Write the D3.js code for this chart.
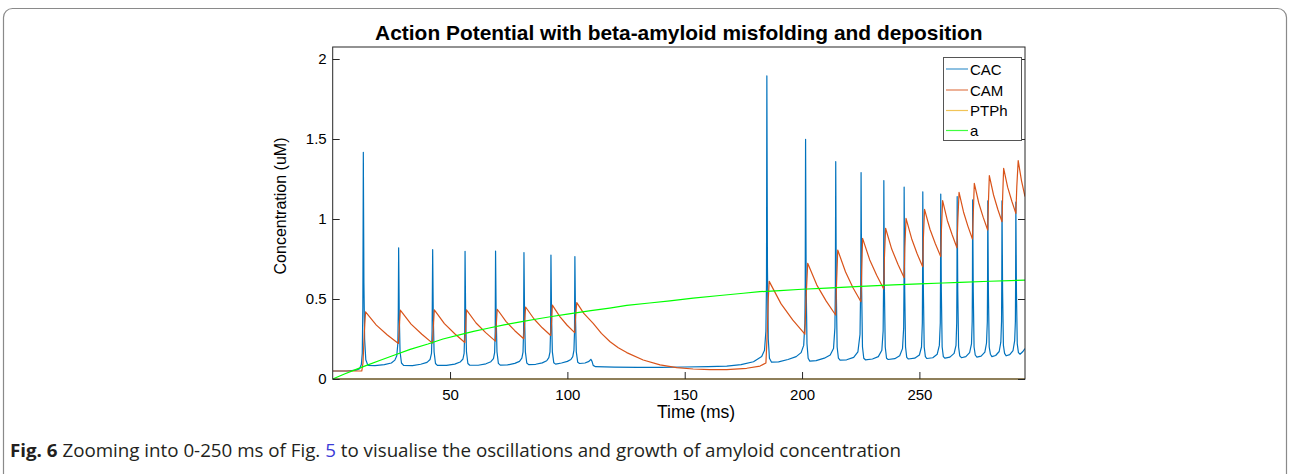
<!DOCTYPE html>
<html><head><meta charset="utf-8">
<script src="https://cdn.jsdelivr.net/npm/d3@7"></script>
<style>body{margin:0;background:#fff}svg{display:block}</style>
</head><body><svg id="c" width="1289" height="474"></svg>
<script>
// ---------------- data ----------------
const seriesNames = ["CAC", "CAM", "PTPh", "a"];
const xTicks = [50, 100, 150, 200, 250];
const yTicks = [0, 0.5, 1, 1.5, 2];
const yTickLabels = ["0", "0.5", "1", "1.5", "2"];
const xTickLabels = ["50", "100", "150", "200", "250"];

// CAC: [time (ms), concentration (uM)]
const CAC = [
[0,0.05],[6,0.05],[10,0.055],[11.5,0.065],[12.2,0.09],[12.6,0.16],[12.85,0.45],[13.05,1.417],[13.3,0.6],[13.6,0.25],[14.1,0.12],[15,0.085],
[18,0.083],[22,0.09],[25,0.1],[26.5,0.118],[27.3,0.145],[27.75,0.22],[27.95,0.42],[28.1,0.82],[28.35,0.42],[28.7,0.17],[29.3,0.1],[30.2,0.085],
[34,0.084],[37.5,0.092],[40.2,0.104],[41.5,0.122],[42.1,0.16],[42.35,0.3],[42.45,0.5],[42.6,0.808],[42.85,0.4],[43.2,0.17],[43.8,0.097],[44.6,0.085],
[48.5,0.085],[52,0.093],[54.3,0.106],[55.5,0.125],[56.0,0.16],[56.25,0.3],[56.3,0.5],[56.4,0.798],[56.65,0.4],[57.0,0.17],[57.6,0.097],[58.4,0.086],
[62,0.086],[65.3,0.095],[67.4,0.108],[68.5,0.127],[69.0,0.165],[69.25,0.3],[69.3,0.5],[69.4,0.80],[69.65,0.4],[70.0,0.17],[70.6,0.098],[71.4,0.087],
[74.5,0.088],[77.6,0.098],[79.6,0.11],[80.6,0.13],[81.1,0.168],[81.35,0.3],[81.4,0.5],[81.5,0.79],[81.75,0.4],[82.1,0.17],[82.7,0.1],[83.5,0.09],
[86.5,0.092],[89.3,0.101],[91.2,0.114],[92.1,0.134],[92.6,0.17],[92.85,0.3],[92.9,0.5],[93.0,0.775],[93.25,0.4],[93.6,0.17],[94.2,0.102],[95.0,0.093],
[97.5,0.1],[100,0.11],[101.5,0.122],[102.3,0.14],[102.8,0.18],[103.05,0.3],[103.1,0.5],[103.2,0.765],[103.45,0.4],[103.8,0.17],[104.4,0.105],[105.2,0.097],
[107.5,0.1],[109.2,0.11],[110.0,0.123],[110.5,0.11],[111.0,0.085],[112,0.077],[120,0.074],[130,0.073],[140,0.073],[150,0.075],[160,0.077],[167.9,0.081],
[174,0.09],[179.3,0.108],[182.8,0.14],[184.0,0.18],[184.6,0.3],[184.85,0.6],[185.0,1.894],[185.25,0.7],[185.6,0.25],[186.1,0.13],[187,0.105],
[190,0.107],[194,0.122],[197.5,0.14],[199.6,0.165],[200.7,0.21],[201.2,0.35],[201.35,0.6],[201.5,1.498],[201.75,0.6],[202.1,0.22],[202.6,0.13],[203.3,0.112],
[206,0.115],[209.5,0.13],[212,0.15],[213.4,0.19],[214.0,0.32],[214.2,0.6],[214.35,1.358],[214.6,0.55],[214.95,0.2],[215.5,0.13],[216.2,0.118],
[219,0.12],[222,0.135],[223.8,0.17],[224.7,0.28],[225.0,0.6],[225.15,1.29],[225.4,0.55],[225.75,0.2],[226.3,0.13],[227,0.12],
[230,0.125],[232.5,0.14],[234.0,0.18],[234.55,0.3],[234.75,0.6],[234.85,1.24],[235.1,0.55],[235.45,0.2],[236,0.13],[236.7,0.122],
[239.5,0.127],[241.6,0.145],[242.8,0.19],[243.3,0.32],[243.45,0.6],[243.5,1.2],[243.75,0.55],[244.1,0.2],[244.6,0.135],[245.3,0.125],
[248,0.13],[250,0.15],[250.9,0.2],[251.25,0.35],[251.35,0.6],[251.45,1.17],[251.7,0.55],[252.05,0.2],[252.55,0.14],[253.2,0.128],
[255.7,0.133],[257.6,0.155],[258.5,0.21],[258.9,0.35],[259.0,0.6],[259.1,1.156],[259.35,0.55],[259.7,0.2],[260.2,0.14],[260.9,0.13],
[263,0.137],[264.8,0.16],[265.6,0.21],[265.9,0.35],[266.0,0.6],[266.1,1.14],[266.35,0.55],[266.7,0.2],[267.2,0.145],[267.9,0.133],
[269.8,0.14],[271.4,0.165],[272.2,0.22],[272.5,0.36],[272.6,0.6],[272.7,1.12],[272.95,0.55],[273.3,0.2],[273.8,0.15],[274.5,0.137],
[276.3,0.143],[277.9,0.168],[278.6,0.225],[278.95,0.36],[279.05,0.6],[279.15,1.113],[279.4,0.55],[279.75,0.2],[280.25,0.155],[280.9,0.14],
[282.5,0.147],[284.0,0.172],[284.7,0.23],[285.0,0.36],[285.1,0.6],[285.2,1.113],[285.45,0.55],[285.8,0.21],[286.3,0.16],[287,0.145],
[288.5,0.152],[289.9,0.178],[290.6,0.24],[290.9,0.36],[291.0,0.6],[291.1,1.106],[291.35,0.55],[291.7,0.22],[292.2,0.165],[292.9,0.155],
[294,0.17],[295,0.19]
];

// CAM: [time (ms), concentration (uM)]
const CAM = [
[0,0.05],[12.4,0.05],[12.9,0.1],[13.5,0.3],[14.0,0.42],
[18.6,0.337],[23.3,0.275],[28.0,0.222],[28.4,0.33],[28.8,0.43],
[33.4,0.343],[38.0,0.28],[42.5,0.224],[42.9,0.33],[43.3,0.432],
[47.6,0.346],[52.0,0.283],[56.3,0.228],[56.7,0.33],[57.0,0.432],
[61.1,0.35],[65.2,0.29],[69.3,0.237],[69.7,0.34],[70.1,0.436],
[73.9,0.359],[77.6,0.302],[81.4,0.252],[81.8,0.36],[82.2,0.45],
[85.8,0.375],[89.3,0.32],[92.9,0.272],[93.3,0.37],[93.6,0.462],
[96.8,0.39],[99.9,0.336],[103.1,0.29],[103.5,0.39],[104.0,0.477],
[107,0.41],[111.0,0.348],[114.5,0.285],[118.2,0.233],[121.7,0.195],[125.3,0.165],[132.3,0.119],[139.5,0.088],[146.6,0.071],
[153.6,0.0625],[160.7,0.058],[167.9,0.059],[176.4,0.067],[182.1,0.081],[184.6,0.1],[185.2,0.3],[185.6,0.5],[186.0,0.61],
[191.0,0.471],[196.0,0.369],[201.2,0.28],[201.7,0.5],[202.4,0.723],
[206.3,0.587],[210.3,0.487],[214.3,0.4],[214.7,0.6],[215.2,0.806],
[218.5,0.67],[221.7,0.57],[225.1,0.483],[225.4,0.68],[225.8,0.879],
[228.8,0.746],[231.8,0.648],[234.8,0.5625],[235.1,0.76],[235.6,0.942],
[238.2,0.812],[240.9,0.716],[243.5,0.633],[243.8,0.82],[244.3,1.004],
[246.7,0.877],[249.0,0.784],[251.4,0.702],[251.7,0.88],[252.2,1.06],
[254.5,0.936],[256.8,0.845],[259.1,0.765],[259.4,0.94],[259.9,1.115],
[261.9,0.991],[264.0,0.9],[266.0,0.82],[266.4,1.0],[266.9,1.167],
[268.8,1.044],[270.7,0.954],[272.6,0.875],[273.0,1.05],[273.4,1.223],
[275.3,1.10],[277.2,1.01],[279.1,0.931],[279.4,1.1],[279.8,1.271],
[281.6,1.15],[283.4,1.061],[285.2,0.983],[285.5,1.15],[285.9,1.317],
[287.6,1.199],[289.4,1.111],[291.1,1.035],[291.5,1.2],[292.1,1.365],
[293.5,1.24],[295,1.14]
];

// PTPh: [time (ms), concentration (uM)]
const PTPh = [[0,0],[100,0],[200,0],[295,0]];

// a (amyloid): [time (ms), concentration (uM)]
const amyloid = [
[0,0],[5,0.031],[10,0.06],[12.2,0.073],[15,0.088],[20,0.116],[26.4,0.15],[33,0.185],[40.6,0.219],[47,0.25],[54.8,0.279],
[60,0.298],[66.2,0.317],[73,0.338],[80,0.357],[87,0.375],[94,0.392],[100,0.406],[110,0.427],[118,0.443],[125.3,0.46],
[135,0.475],[143.7,0.488],[153.6,0.505],[165,0.522],[175,0.536],[182,0.546],[190.6,0.552],[200,0.561],[210.4,0.568],
[225,0.579],[238.9,0.588],[250,0.595],[260,0.6],[267.3,0.604],[280,0.611],[295,0.618]
];

const seriesData = [CAC, CAM, PTPh, amyloid];
const seriesColors = ["#0072BD", "#D95319", "#EDB120", "#00FF00"];

// ---------------- layout ----------------
const svg = d3.select("#c");
const L = 332.7, R = 1025, T = 47, B = 379;
const x = d3.scaleLinear().domain([0, 295]).range([L, R]);
const y = d3.scaleLinear().domain([0, 2.075]).range([B, T]);
const axisColor = "#262626";
const fontFam = "'Liberation Sans', Arial, Helvetica, sans-serif";

// outer frame
svg.append("rect").attr("x", 3.5).attr("y", 8.5).attr("width", 1283).attr("height", 520)
  .attr("rx", 9).attr("fill", "none").attr("stroke", "#8a8a8a").attr("stroke-width", 1.2);

// plot background
svg.append("rect").attr("x", L).attr("y", T).attr("width", R - L).attr("height", B - T).attr("fill", "#fff");

svg.append("clipPath").attr("id", "clip").append("rect")
  .attr("x", L).attr("y", T - 1).attr("width", R - L).attr("height", B - T + 2);

const line = d3.line().x(d => x(d[0])).y(d => y(d[1]));
const g = svg.append("g").attr("clip-path", "url(#clip)");
seriesData.forEach((s, i) => {
  g.append("path").datum(s).attr("d", line).attr("fill", "none")
    .attr("stroke", seriesColors[i]).attr("stroke-width", 1.2).attr("stroke-linejoin", "round");
});

// axes
const yAxis = d3.axisLeft(y).tickValues(yTicks).tickFormat((d, i) => yTickLabels[i])
  .tickSizeInner(-7).tickSizeOuter(0).tickPadding(6);
const yAxisR = d3.axisRight(y).tickValues(yTicks).tickFormat("").tickSizeInner(-7).tickSizeOuter(0);
const xAxis = d3.axisBottom(x).tickValues(xTicks).tickFormat((d, i) => xTickLabels[i])
  .tickSizeInner(-7).tickSizeOuter(0).tickPadding(10);

function styleAxis(sel) {
  sel.select(".domain").remove();
  sel.selectAll("line").attr("stroke", axisColor);
  sel.selectAll("text").attr("fill", "#000").style("font-family", fontFam).style("font-size", "15px");
}
svg.append("g").attr("transform", `translate(${L},0)`).call(yAxis).call(styleAxis);
svg.append("g").attr("transform", `translate(${R},0)`).call(yAxisR).call(styleAxis);
svg.append("g").attr("transform", `translate(0,${B})`).call(xAxis).call(styleAxis);

svg.append("rect").attr("x", L).attr("y", T).attr("width", R - L).attr("height", B - T)
  .attr("fill", "none").attr("stroke", axisColor).attr("stroke-width", 1);

// title & labels
const title = svg.append("text").attr("x", (L + R) / 2).attr("y", 40).attr("text-anchor", "middle")
  .style("font-family", fontFam).style("font-size", "20px").style("font-weight", "bold")
  .text("Action Potential with beta-amyloid misfolding and deposition");
const tw = title.node().getComputedTextLength();
title.style("font-size", (20 * 608 / tw).toFixed(2) + "px");

svg.append("text").attr("x", 696).attr("y", 418).attr("text-anchor", "middle")
  .style("font-family", fontFam).style("font-size", "17.5px").text("Time (ms)");
svg.append("text").attr("transform", "translate(286,206) rotate(-90)").attr("text-anchor", "middle")
  .style("font-family", fontFam).style("font-size", "16px").text("Concentration (uM)");

// legend
const lg = svg.append("g");
lg.append("rect").attr("x", 943.5).attr("y", 57.5).attr("width", 78).attr("height", 83)
  .attr("fill", "#fff").attr("stroke", "#555").attr("stroke-width", 1);
const legY = [69, 90, 110.5, 130.5];
seriesNames.forEach((n, i) => {
  lg.append("line").attr("x1", 946).attr("x2", 968).attr("y1", legY[i]).attr("y2", legY[i])
    .attr("stroke", seriesColors[i]).attr("stroke-width", 1.2).attr("opacity", 0.75);
  lg.append("text").attr("x", 970).attr("y", legY[i] + 5.5)
    .style("font-family", fontFam).style("font-size", "15px").text(n);
});

// caption
const cap = svg.append("text").attr("transform", "translate(10,457)")
  .style("font-family", "'Open Sans', 'Noto Sans', sans-serif").style("font-size", "17.5px").attr("fill", "#231f20");
cap.append("tspan").style("font-weight", "bold").text("Fig. 6");
cap.append("tspan").text(" Zooming into 0-250 ms of Fig. ");
cap.append("tspan").attr("fill", "#3b3bd6").text("5");
cap.append("tspan").text(" to visualise the oscillations and growth of amyloid concentration");
const w = cap.node().getComputedTextLength();
cap.attr("transform", `translate(10,457) scale(${892 / w},1)`);
</script>
</body></html>
